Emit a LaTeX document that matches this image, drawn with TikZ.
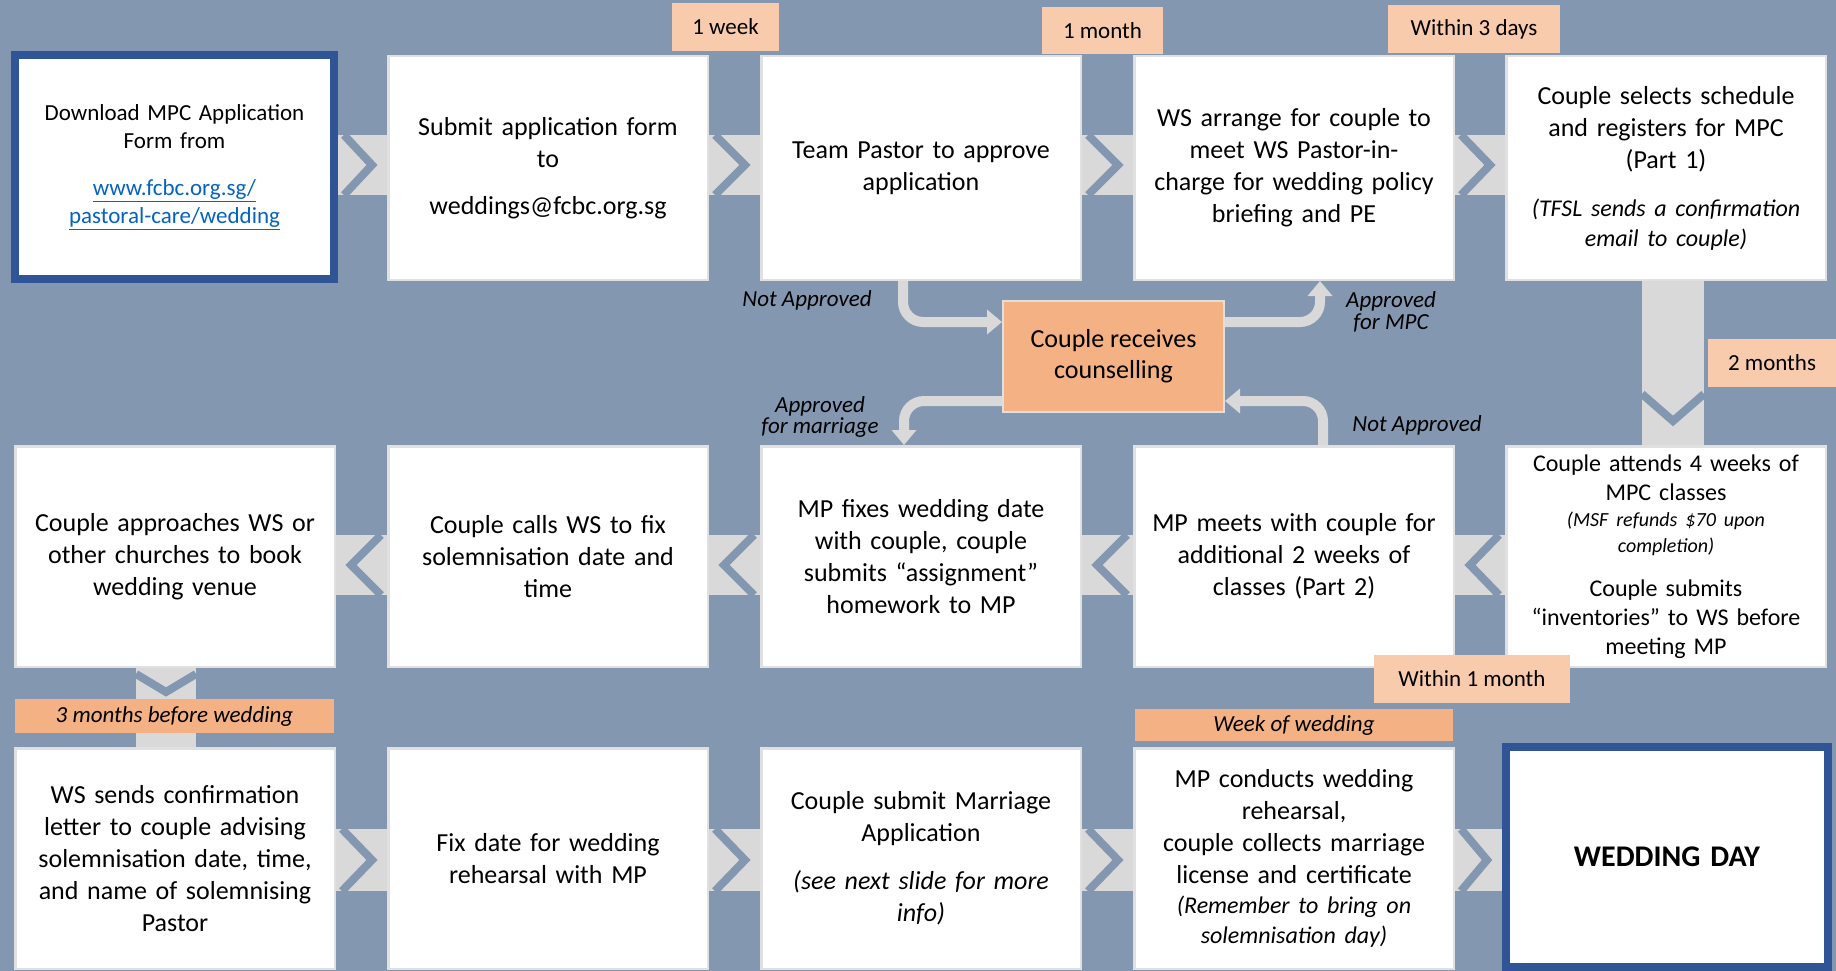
\documentclass[tikz,border=0pt]{standalone}
\usepackage{fontspec}
\setmainfont{Carlito}
\usetikzlibrary{arrows.meta,calc}
\definecolor{slate}{RGB}{132,151,176}
\definecolor{chevgray}{RGB}{217,217,217}
\definecolor{peach}{RGB}{248,203,173}
\definecolor{apricot}{RGB}{244,177,131}
\definecolor{navy}{RGB}{47,85,151}
\definecolor{linkblue}{RGB}{5,99,193}
\definecolor{rim}{RGB}{224,224,224}
\newcommand{\fsz}[2]{\fontsize{#1}{#2}\selectfont}

\begin{document}
\begin{tikzpicture}[x=1pt, y=-1pt,
  stepbox/.style={draw=rim, line width=2.5pt, fill=white, minimum width=319.5pt, minimum height=220.5pt, text width=310pt, align=center, inner sep=0pt, font={\fsz{26}{32}}},
  endbox/.style={stepbox, draw=navy, line width=8pt},
  timebox/.style={fill=peach, minimum height=48pt, inner sep=0pt, font={\fsz{23}{28}}},
  stagebox/.style={fill=apricot, minimum height=32pt, inner sep=0pt, font={\fsz{23}{28}\itshape}},
  remark/.style={inner sep=0pt, align=center, font={\fsz{23}{21.5}\itshape}},
  backflow/.style={draw=chevgray, line width=10pt, rounded corners=20pt, -{Triangle[length=15pt,width=24pt]}},
  vnotch/.style={draw=slate, line width=8pt, line join=miter}]
  \useasboundingbox (0,0) rectangle (1836,971);
  \fill[slate] (0,0) rectangle (1836,971);
  % row 1
  \node[endbox, minimum width=319pt, minimum height=224pt, font={\fsz{23}{28}}] (b1) at (174.5,167) {Download MPC Application\\Form from\\[19pt]\textcolor{linkblue}{\underline{www.fcbc.org.sg/}}\\\textcolor{linkblue}{\underline{pastoral-care/wedding}}};
  \node[stepbox, minimum height=223.5pt] (b2) at (548,168) {Submit application form\\to\\[15pt]weddings@fcbc.org.sg};
  \node[stepbox, minimum height=223.5pt] (b3) at (921,168) {Team Pastor to approve\\application};
  \node[stepbox, minimum height=223.5pt] (b4) at (1294,168) {WS arrange for couple to\\meet WS Pastor-in-\\charge for wedding policy\\briefing and PE};
  \node[stepbox, minimum height=223.5pt] (b5) at (1666,168) {Couple selects schedule\\and registers for MPC\\(Part 1)\par\vspace{18pt}{\fsz{24}{30}\itshape (TFSL sends a confirmation\\email to couple)\par}};
  % row 2
  \node[stepbox] (b6) at (175,556.5) {Couple approaches WS or\\other churches to book\\wedding venue};
  \node[stepbox] (b7) at (548,556.5) {Couple calls WS to fix\\solemnisation date and\\time};
  \node[stepbox] (b8) at (921,556.5) {MP fixes wedding date\\with couple, couple\\submits “assignment”\\homework to MP};
  \node[stepbox] (b9) at (1294,556.5) {MP meets with couple for\\additional 2 weeks of\\classes (Part 2)};
  \node[stepbox, font={\fsz{24}{29}}] (b10) at (1666,556.5) {Couple attends 4 weeks of\\MPC classes\par{\fsz{20}{26}\itshape (MSF refunds \$70 upon\\completion)\par}\vspace{15pt}Couple submits\\“inventories” to WS before\\meeting MP};
  % row 3
  \node[stepbox] (b11) at (175,858.5) {WS sends confirmation\\letter to couple advising\\solemnisation date, time,\\and name of solemnising\\Pastor};
  \node[stepbox] (b12) at (548,858.5) {Fix date for wedding\\rehearsal with MP};
  \node[stepbox] (b13) at (921,858.5) {Couple submit Marriage\\Application\par\vspace{16pt}{\itshape (see next slide for more\\info)\par}};
  \node[stepbox] (b14) at (1294,858.5) {MP conducts wedding\\rehearsal,\\couple collects marriage\\license and certificate\par{\fsz{24}{30}\itshape (Remember to bring on\\solemnisation day)\par}};
  \node[endbox, minimum width=322pt, minimum height=220pt, font={\fsz{30}{36}\bfseries}] (b15) at (1667,857) {WEDDING DAY};
  % chevrons pointing right
  \foreach \a/\b/\yt/\yb in {b1/b2/135/195, b2/b3/135/195, b3/b4/135/195, b4/b5/135/195,
                             b11/b12/829/891, b12/b13/829/891, b13/b14/829/891, b14/b15/829/891} {
    \fill[chevgray] (\a.east |- 0,\yt) rectangle (\b.west |- 0,\yb);
    \begin{scope}
      \clip (\a.east |- 0,\yt) rectangle (\b.west |- 0,\yb);
      \draw[vnotch] ($(\a.east |- 0,\yt)+(6,0)$) -- ($(\b.west |- 0,\yt)+(-15,{(\yb-\yt)/2})$) -- ($(\a.east |- 0,\yb)+(6,0)$);
    \end{scope}
  }
  % chevrons pointing left
  \foreach \a/\b in {b6/b7, b7/b8, b8/b9, b9/b10} {
    \fill[chevgray] (\a.east |- 0,535) rectangle (\b.west |- 0,595);
    \begin{scope}
      \clip (\a.east |- 0,535) rectangle (\b.west |- 0,595);
      \draw[vnotch] ($(\b.west |- 0,535)+(-6,0)$) -- ($(\a.east |- 0,535)+(15,30)$) -- ($(\b.west |- 0,595)+(-6,0)$);
    \end{scope}
  }
  % chevrons pointing down
  \fill[chevgray] ($(b5.south)+(-24,0)$) rectangle ($(b10.north)+(38,0)$);
  \begin{scope}
    \clip ($(b5.south)+(-24,0)$) rectangle ($(b10.north)+(38,0)$);
    \draw[vnotch] ($(b10.north)+(-24,-51)$) -- ($(b10.north)+(7,-24)$) -- ($(b10.north)+(38,-51)$);
  \end{scope}
  \fill[chevgray] ($(b6.south)+(-39,0)$) rectangle ($(b11.north)+(21,0)$);
  \begin{scope}
    \clip ($(b6.south)+(-39,0)$) rectangle ($(b11.north)+(21,0)$);
    \draw[vnotch] ($(b6.south)+(-39,6)$) -- ($(b6.south)+(-9,24)$) -- ($(b6.south)+(21,6)$);
  \end{scope}
  % counselling loop
  \node[draw=rim, line width=2pt, fill=apricot, minimum width=221pt, minimum height=111pt, align=center, inner sep=0pt, font={\fsz{26}{31}}] (couns) at (1113.5,356.5) {Couple receives\\counselling};
  \draw[backflow] ($(b3.south)+(-18,0)$) |- ([yshift=34.5pt]couns.west);
  \draw[backflow] ([yshift=34.5pt]couns.east) -| ($(b4.south)+(26,0)$);
  \draw[backflow] ([yshift=-44.5pt]couns.west) -| ($(b8.north)+(-17,0)$);
  \draw[backflow] ($(b9.north)+(29,0)$) |- ([yshift=-44.5pt]couns.east);
  \node[remark] (na1) at (807,300) {Not Approved};
  \node[remark] (okm) at (1391,312) {Approved\\for MPC};
  \node[remark] (okw) at (820,417) {Approved\\for marriage};
  \node[remark] (na2) at (1417,425) {Not Approved};
  % time labels
  \node[timebox, minimum width=107pt] (t1) at (725.5,27) {1 week};
  \node[timebox, minimum width=121pt, minimum height=47pt] (t2) at (1102.5,30.5) {1 month};
  \node[timebox, minimum width=172pt] (t3) at (1474,29) {Within 3 days};
  \node[timebox, minimum width=128pt] (t4) at (1772,363) {2 months};
  \node[timebox, minimum width=196pt] (t5) at (1472,679) {Within 1 month};
  \node[stagebox, minimum width=318pt] (s1) at (1294,725) {Week of wedding};
  \node[stagebox, minimum width=319pt, minimum height=34pt] (s2) at (174.5,716) {3 months before wedding};
\end{tikzpicture}
\end{document}
